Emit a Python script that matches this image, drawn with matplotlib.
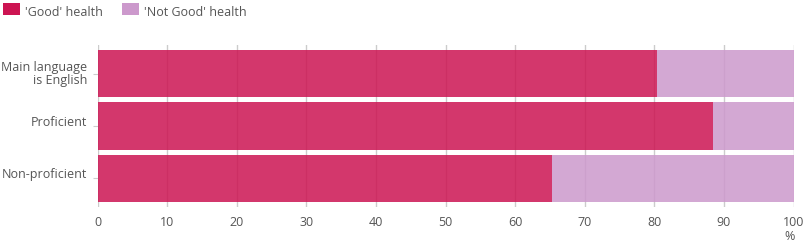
import matplotlib
matplotlib.use("Agg")
import matplotlib.pyplot as plt
from matplotlib.patches import Rectangle
from matplotlib.transforms import ScaledTranslation

categories = ["Main language\nis English", "Proficient", "Non-proficient"]
good = [80.4, 88.4, 65.3]
not_good = [19.6, 11.6, 34.7]
series_labels = ["'Good' health", "'Not Good' health"]
xticks = [0, 10, 20, 30, 40, 50, 60, 70, 80, 90, 100]

plt.rcParams['font.family'] = ['Open Sans', 'DejaVu Sans']
text_color = '#555555'
c_good = '#CC1452'
c_not = '#CC99CC'
fs = 9

W, H = 808, 245
fig = plt.figure(figsize=(W/100, H/100), dpi=100)
ax = fig.add_axes([97.5/W, 38/H, 696/W, 162/H])

ypos = list(range(len(categories)))
ax.barh(ypos, good, height=0.9, color=c_good, alpha=0.85, zorder=1, linewidth=0)
ax.barh(ypos, not_good, left=good, height=0.9, color=c_not, alpha=0.85, zorder=1, linewidth=0)

ax.set_xlim(0, 100)
ax.set_ylim(2.55, -0.55)
ax.set_yticks(ypos)
ax.set_yticklabels(categories, fontsize=fs, color=text_color, linespacing=0.95)
ax.set_xticks(xticks)
ax.set_xticklabels([str(t) for t in xticks], fontsize=fs, color=text_color)
ax.tick_params(axis='x', length=0, pad=6.5)
ax.tick_params(axis='y', length=3.6, color='#cccccc', pad=3.6)
for s in ax.spines.values():
    s.set_visible(False)
ax.grid(axis='x', color='#cccccc', linewidth=1, zorder=0)
ax.set_axisbelow(True)

offsets = [1, 5, 5]
for lab, off in zip(ax.get_yticklabels(), offsets):
    lab.set_transform(lab.get_transform() + ScaledTranslation(0, off/100, fig.dpi_scale_trans))

ax.text(99.4, -0.18, '%', transform=ax.get_xaxis_transform(), ha='center', va='center',
        fontsize=fs, color=text_color)

# legend
sw = [(3, c_good, series_labels[0], 25), (122, c_not, series_labels[1], 144)]
for x0, col, lab, tx in sw:
    fig.add_artist(Rectangle((x0/W, 1 - 15/H), 17/W, 12/H, transform=fig.transFigure,
                             color=col, linewidth=0))
    fig.text(tx/W, 1 - 12.5/H, lab, ha='left', va='center', fontsize=fs, color=text_color)

fig.savefig('out.png', dpi=100)
